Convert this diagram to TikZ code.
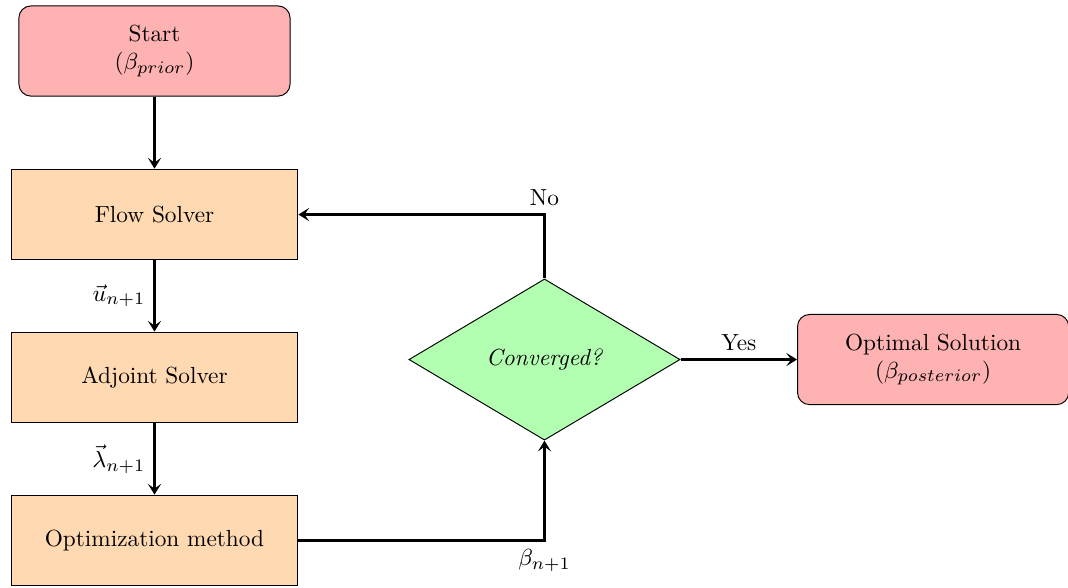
\RequirePackage{fix-cm}
\documentclass[tikz,border=0pt]{standalone}
\usepackage{amsmath}
\usepackage{tikz}
\usetikzlibrary{arrows.meta,positioning,calc,shapes.geometric}
\DeclareMathSizes{9.7}{9.7}{7.3}{5.5}

\begin{document}
\begin{tikzpicture}[
    every node/.style={font=\fontsize{9.7}{11.6}\selectfont},
    terminal/.style={draw=black, fill=red!30, rounded corners=5pt, minimum width=3.97cm, minimum height=1.32cm, align=center},
    solver/.style={draw=black, fill=orange!30, minimum width=4.2cm, minimum height=1.33cm, align=center},
    decision/.style={draw=black, fill=green!30, diamond, inner sep=0pt, minimum width=3.97cm, minimum height=2.36cm, align=center},
    flow/.style={-{Stealth[length=4.5pt, width=5.5pt, inset=2pt]}, line width=1pt}
]
\useasboundingbox (-2.262,0.747) rectangle (13.375,-7.848);
\node[terminal] (start) at (0,0) {Start\\($\beta_{prior}$)};
\node[solver] (flowsolver) at (0,-2.394) {Flow Solver};
\node[solver] (adjoint) at (0,-4.78) {Adjoint Solver};
\node[solver] (optim) at (0,-7.167) {Optimization method};
\node[decision] (conv) at (5.71,-4.517) {\textit{Converged?}};
\node[terminal] (final) at (11.40,-4.517) {Optimal Solution\\($\beta_{posterior}$)};
\draw[flow] (start) -- (flowsolver);
\draw[flow] (flowsolver) -- node[left] {$\vec{u}_{n+1}$} (adjoint);
\draw[flow] (adjoint) -- node[left] {$\vec{\lambda}_{n+1}$} (optim);
\draw[flow] (optim.east) -| node[pos=0.5, below] {$\beta_{n+1}$} (conv.south);
\draw[flow] (conv.north) |- node[pos=0.5, above] {No} (flowsolver.east);
\draw[flow] (conv.east) -- node[above] {Yes} (final.west);
\end{tikzpicture}
\end{document}
